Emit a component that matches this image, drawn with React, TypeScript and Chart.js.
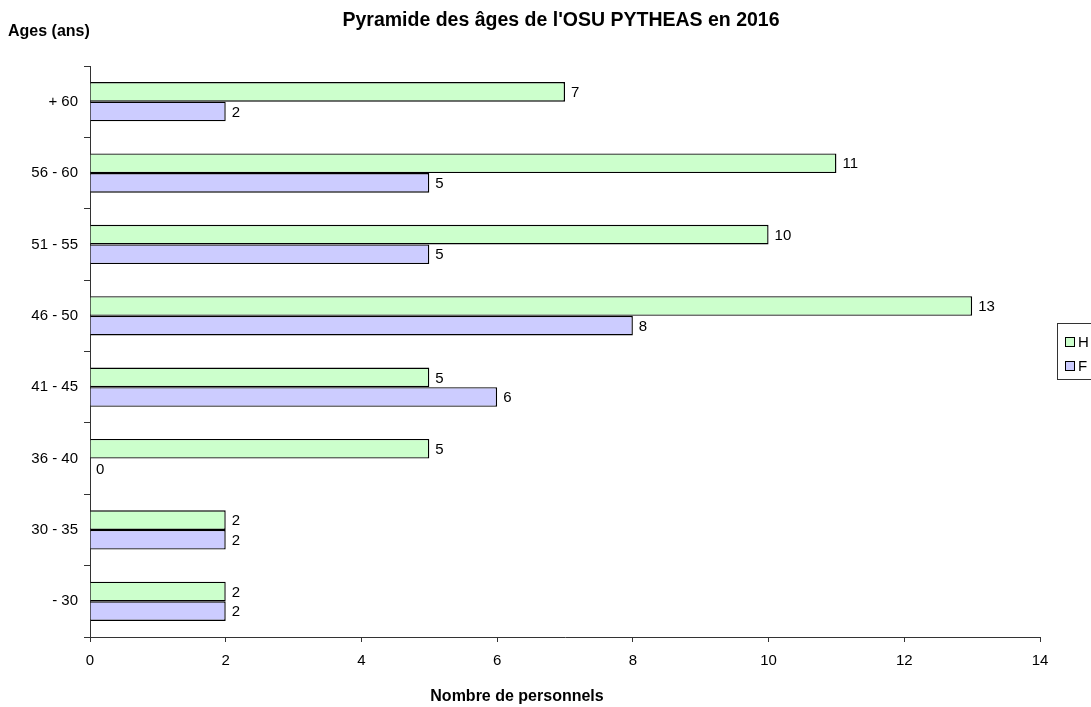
import React, { useEffect, useRef } from "react";
import { Chart, registerables } from "chart.js";

Chart.register(...registerables);

const categories = ["+ 60", "56 - 60", "51 - 55", "46 - 50", "41 - 45", "36 - 40", "30 - 35", "- 30"];
const hommes = [7, 11, 10, 13, 5, 5, 2, 2];
const femmes = [2, 5, 5, 8, 6, 0, 2, 2];
const seriesNames = ["H", "F"];
const seriesColors = ["#ccffcc", "#ccccff"];
const xTicks = [0, 2, 4, 6, 8, 10, 12, 14];
const chartTitle = "Pyramide des âges de l'OSU PYTHEAS en 2016";
const yTitle = "Ages (ans)";
const xTitle = "Nombre de personnels";

const FONT = "'Liberation Sans', Arial, sans-serif";

const decorPlugin = {
  id: "decor",
  afterDatasetsDraw(chart: any) {
    const ctx = chart.ctx;
    ctx.save();
    ctx.fillStyle = "#000";
    ctx.font = `15px ${FONT}`;
    ctx.textAlign = "left";
    ctx.textBaseline = "middle";
    chart.data.datasets.forEach((ds: any, i: number) => {
      const meta = chart.getDatasetMeta(i);
      meta.data.forEach((el: any, j: number) => {
        ctx.fillText(String(ds.data[j]), el.x + 6, el.y + 1);
      });
    });
    ctx.restore();
  },
  afterDraw(chart: any) {
    const ctx = chart.ctx;
    ctx.save();
    ctx.fillStyle = "#000";
    ctx.textBaseline = "middle";
    ctx.font = `bold 19.5px ${FONT}`;
    ctx.textAlign = "center";
    ctx.fillText(chartTitle, 561, 21);
    ctx.font = `bold 16px ${FONT}`;
    ctx.textAlign = "left";
    ctx.fillText(yTitle, 8, 32);
    ctx.textAlign = "center";
    ctx.fillText(xTitle, 517, 697);

    // legend
    ctx.strokeStyle = "#333";
    ctx.lineWidth = 1;
    ctx.strokeRect(1057.5, 323.5, 60, 56);
    chart.data.datasets.forEach((ds: any, i: number) => {
      const y = 337 + i * 24;
      ctx.fillStyle = ds.backgroundColor;
      ctx.fillRect(1065, y, 10, 10);
      ctx.strokeStyle = "#000";
      ctx.strokeRect(1065.5, y + 0.5, 9, 9);
      ctx.fillStyle = "#000";
      ctx.font = `15px ${FONT}`;
      ctx.textAlign = "left";
      ctx.fillText(ds.label, 1078, y + 5.5);
    });
    ctx.restore();
  },
};

export default function App() {
  const ref = useRef<HTMLCanvasElement>(null);
  useEffect(() => {
    if (!ref.current) return;
    const chart = new Chart(ref.current, {
      type: "bar",
      data: {
        labels: categories,
        datasets: [
          { label: seriesNames[0], data: hommes, backgroundColor: seriesColors[0], borderColor: "#000", borderWidth: 1.4 },
          { label: seriesNames[1], data: femmes, backgroundColor: seriesColors[1], borderColor: "#000", borderWidth: 1.4 },
        ],
      },
      options: {
        indexAxis: "y",
        responsive: false,
        animation: false,
        events: [],
        layout: { padding: { left: 0, top: 66, right: 51, bottom: 0 } },
        datasets: { bar: { categoryPercentage: 0.55, barPercentage: 1 } },
        plugins: { legend: { display: false }, title: { display: false }, tooltip: { enabled: false } },
        scales: {
          x: {
            type: "linear",
            min: 0,
            max: 14,
            afterFit: (s: any) => { s.height = 70; },
            afterBuildTicks: (s: any) => { s.ticks = xTicks.map((v) => ({ value: v })); },
            grid: { display: true, drawOnChartArea: false, drawTicks: true, tickLength: 5, color: "#333" },
            border: { display: true, color: "#333", width: 1 },
            ticks: { color: "#000", font: { family: FONT, size: 15 }, padding: 10 },
          },
          y: {
            type: "category",
            afterFit: (s: any) => { s.width = 90; },
            grid: { display: true, drawOnChartArea: false, drawTicks: true, tickLength: 6, color: "#333", offset: true },
            border: { display: true, color: "#333", width: 1 },
            ticks: { color: "#000", font: { family: FONT, size: 15 }, padding: 6 },
          },
        },
      },
      plugins: [decorPlugin],
    });
    return () => chart.destroy();
  }, []);
  return (
    <div style={{ position: "fixed", left: 0, top: 0, width: 1091, height: 707, background: "#fff" }}>
      <canvas ref={ref} width={1091} height={707} style={{ width: 1091, height: 707, display: "block" }} />
    </div>
  );
}
